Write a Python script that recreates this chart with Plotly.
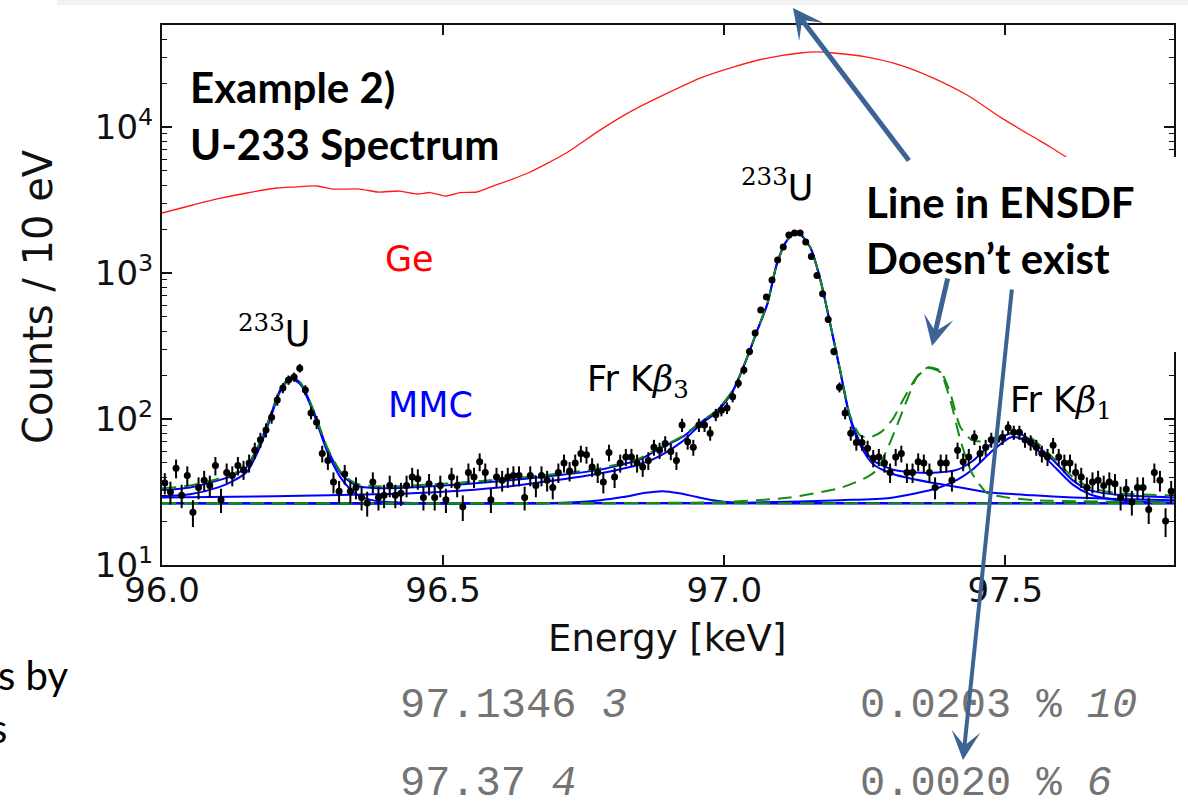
import plotly.graph_objects as go

# ---------------- data ----------------
# Ge detector spectrum (red line)
ge_energy_kev = [96.000, 96.055, 96.098, 96.151, 96.205, 96.233, 96.276, 96.304, 96.352, 96.383,
                 96.423, 96.454, 96.477, 96.504, 96.530, 96.560, 96.589, 96.619, 96.651, 96.719,
                 96.779, 96.838, 96.899, 96.957, 97.016, 97.077, 97.135, 97.165, 97.194, 97.254,
                 97.313, 97.372, 97.432, 97.491, 97.550, 97.580, 97.620, 97.700, 97.800]
ge_counts = [2576, 2924, 3215, 3534, 3822, 3882, 3945, 3760, 3760, 3589,
             3645, 3478, 3560, 3366, 3560, 3589, 3945, 4335, 4842, 6637,
             9530, 13060, 17090, 21660, 25770, 29700, 32150, 32680, 32150, 30150,
             26600, 21660, 16560, 11700, 8540, 7300, 5800, 3500, 1800]

# MMC spectrum, 10 eV bins (first bin centre 96.005 keV)
mmc_first_bin_kev = 96.005
mmc_bin_width_kev = 0.01
mmc_counts = [36.5, 31.6, 46, 30, 41, 23, 34, 38, 35, 48,
              28, 43, 41, 48, 45, 50, 61, 72, 84, 103,
              135, 163, 185, 194, 223, 158, 110, 95, 58, 52,
              37, 32, 42, 32, 34, 29, 26.6, 37, 29, 30,
              35, 30, 31, 35, 40, 39, 29, 36, 29, 35,
              28, 40, 35, 25, 43, 40, 51, 43, 28, 40,
              38, 40, 41, 41, 29, 41, 35, 41, 38, 34,
              43, 50, 44, 50, 58, 57, 47, 43, 37, 59,
              40, 50, 55, 55, 50, 47, 52, 64, 61, 68,
              60, 52, 91, 70, 64, 91, 91, 80, 107, 115,
              119, 142, 176, 217, 290, 388, 558, 685, 896, 1228,
              1506, 1823, 1880, 1880, 1630, 1300, 960, 720, 480, 290,
              165, 110, 80, 69, 69, 63, 54, 55, 50, 43,
              55, 58, 43, 43, 51, 50, 43, 34, 50, 50,
              38, 61, 51, 55, 75, 58, 64, 72, 72, 75,
              87, 81, 81, 72, 69, 64, 58, 55, 66, 55,
              50, 50, 43, 40, 34, 37, 38, 35, 37, 36,
              29, 33, 27, 34, 34, 24, 43, 38, 20, 32]

# Fit (blue): total
fit_total_kev = [96.000, 96.050, 96.100, 96.126, 96.151, 96.174, 96.192, 96.210, 96.228, 96.246,
                 96.269, 96.293, 96.317, 96.335, 96.352, 96.400, 96.500, 96.600, 96.700, 96.780,
                 96.850, 96.886, 96.925, 96.957, 96.988, 97.016, 97.041, 97.059, 97.077, 97.094,
                 97.112, 97.130, 97.153, 97.171, 97.189, 97.206, 97.224, 97.242, 97.265, 97.300,
                 97.340, 97.380, 97.415, 97.443, 97.478, 97.510, 97.530, 97.560, 97.590, 97.620,
                 97.650, 97.710, 97.800]
fit_total_counts = [32.6, 34, 38, 41, 47, 68, 103, 158, 192, 177,
                    115, 64, 43, 37, 34.5, 33.5, 35, 37.5, 41, 45,
                    53, 63, 75, 94, 115, 158, 265, 407, 620, 1170,
                    1683, 1910, 1500, 900, 440, 217, 103, 69, 52, 45,
                    43, 43, 45, 52, 69, 80, 78, 64, 50, 38,
                    32.6, 30, 29]

# Fit (blue): 233U line at 96.23 keV on background
fit_u96_kev = [96.000, 96.050, 96.100, 96.126, 96.151, 96.174, 96.192, 96.210, 96.228, 96.246,
               96.269, 96.293, 96.317, 96.335, 96.352, 96.380, 96.420, 96.500, 97.000, 97.800]
fit_u96_counts = [29.5, 30.5, 34, 37.5, 43.5, 64, 99, 154, 188, 173,
                  111, 61, 40, 33, 29.5, 27.5, 26.8, 26.5, 26.5, 26.5]

# Fit (blue): 233U line at 97.13 keV on background
fit_u97_kev = [96.000, 96.200, 96.400, 96.500, 96.600, 96.700, 96.780, 96.850, 96.886, 96.925,
               96.957, 96.988, 97.016, 97.041, 97.059, 97.077, 97.094, 97.112, 97.130, 97.153,
               97.171, 97.189, 97.206, 97.224, 97.242, 97.265, 97.300, 97.340, 97.380, 97.420,
               97.470, 97.550, 97.620, 97.700, 97.800]
fit_u97_counts = [29, 29.6, 30.6, 31.8, 34, 38, 42.5, 49, 56, 70,
                  91, 113, 157, 264, 406, 619, 1169, 1682, 1909, 1499,
                  899, 439, 215, 100, 66, 49, 42, 38.5, 36, 34,
                  31.5, 30, 29, 28.3, 27.8]

# Fit (blue): Fr K-beta3
fit_kb3_kev = [96.000, 96.700, 96.780, 96.820, 96.860, 96.890, 96.920, 96.950, 96.980, 97.020, 97.100, 97.800]
fit_kb3_counts = [26.5, 26.6, 27.8, 29.2, 31.2, 32, 31, 29.3, 27.8, 26.8, 26.5, 26.5]

# Fit (blue): Fr K-beta1
fit_kb1_kev = [96.000, 97.000, 97.206, 97.295, 97.380, 97.415, 97.443, 97.478, 97.510, 97.530,
               97.560, 97.590, 97.620, 97.650, 97.700, 97.800]
fit_kb1_counts = [26.5, 26.6, 27.8, 28.8, 33.7, 38.5, 45.5, 61, 75, 73,
                  60, 46, 35.5, 30.5, 27.8, 26.8]

# Fit (blue) background
fit_bg_kev = [96.0, 97.8]
fit_bg_counts = [26.5, 26.5]

# Alternative fit with ENSDF line (green dashed): total
alt_total_kev = [96.000, 96.050, 96.100, 96.126, 96.151, 96.174, 96.192, 96.210, 96.228, 96.246,
                 96.269, 96.293, 96.317, 96.335, 96.352, 96.400, 96.500, 96.600, 96.700, 96.780,
                 96.850, 96.886, 96.925, 96.957, 96.988, 97.016, 97.041, 97.059, 97.077, 97.094,
                 97.112, 97.130, 97.153, 97.171, 97.189, 97.206, 97.224, 97.242, 97.260, 97.280,
                 97.300, 97.318, 97.343, 97.363, 97.384, 97.402, 97.420, 97.440, 97.460, 97.480,
                 97.500, 97.520, 97.540, 97.560, 97.590, 97.620, 97.650, 97.700, 97.800]
alt_total_counts = [33.5, 35, 39, 42, 48, 69, 104, 159, 193, 178,
                    116, 65, 44, 38, 35.5, 34.5, 36, 38.5, 42, 46,
                    54, 64, 76, 95, 116, 159, 266, 408, 621, 1171,
                    1684, 1911, 1501, 901, 441, 219, 105, 77, 75, 82,
                    100, 135, 196, 226, 215, 150, 88, 72, 70, 73,
                    79, 81, 77, 67, 52, 40, 34, 31, 30]

# Alternative fit: ENSDF line at 97.37 keV on background
alt_line_kev = [96.000, 97.000, 97.117, 97.206, 97.254, 97.272, 97.295, 97.318, 97.343, 97.363,
                97.384, 97.402, 97.420, 97.440, 97.468, 97.503, 97.550, 97.800]
alt_line_counts = [26.5, 27, 29, 33.7, 40, 45, 69, 115, 194, 223,
                   210, 135, 72, 43, 31, 29, 27.8, 26.8]

alt_bg_kev = [96.0, 97.8]
alt_bg_counts = [26.5, 26.5]

y_tick_values = [10, 100, 1000, 10000]
y_tick_labels = ["10<sup>1</sup>", "10<sup>2</sup>", "10<sup>3</sup>", "10<sup>4</sup>"]
y_minor_values = [20, 30, 40, 50, 60, 70, 80, 90, 200, 300, 400, 500, 600, 700, 800, 900,
                  2000, 3000, 4000, 5000, 6000, 7000, 8000, 9000, 20000, 30000, 40000]
x_tick_values = [96.0, 96.5, 97.0, 97.5]

# ---------------- figure ----------------
FIG_W, FIG_H = 1188, 801
PL, PR, PT, PB = 162, 1174, 25, 565


def xp(px):
    return (px - PL) / (PR - PL)


def yp(py):
    return (PB - py) / (PB - PT)


BLUE = "#0000ff"
GREEN = "#138a13"
fig = go.Figure()

fig.add_trace(go.Scatter(x=ge_energy_kev, y=ge_counts, mode="lines",
                         line=dict(color="rgba(255,0,0,0.9)", width=1.3, shape="spline", smoothing=0.6)))

for xs, ys in [(fit_bg_kev, fit_bg_counts), (fit_u96_kev, fit_u96_counts),
               (fit_u97_kev, fit_u97_counts), (fit_kb3_kev, fit_kb3_counts),
               (fit_kb1_kev, fit_kb1_counts), (fit_total_kev, fit_total_counts)]:
    fig.add_trace(go.Scatter(x=xs, y=ys, mode="lines",
                             line=dict(color=BLUE, width=2, shape="spline", smoothing=0.7)))

for xs, ys in [(alt_bg_kev, alt_bg_counts), (alt_line_kev, alt_line_counts),
               (alt_total_kev, alt_total_counts)]:
    fig.add_trace(go.Scatter(x=xs, y=ys, mode="lines",
                             line=dict(color=GREEN, width=2, dash="14px,8px", shape="spline", smoothing=0.6)))

fig.add_trace(go.Scatter(x0=mmc_first_bin_kev, dx=mmc_bin_width_kev, y=mmc_counts, mode="markers",
                         marker=dict(color="black", size=7),
                         error_y=dict(type="sqrt", color="black", thickness=2, width=0)))

axis_common = dict(showline=True, linecolor="#111", linewidth=2, mirror="allticks",
                   ticks="inside", ticklen=10, tickwidth=1.5, tickcolor="#111",
                   showgrid=False, zeroline=False,
                   tickfont=dict(family="DejaVu Sans", size=34, color="#111"))

fig.update_xaxes(range=[96.0, 97.8], tickvals=x_tick_values, tickformat=".1f",
                 ticklabelstandoff=-6, **axis_common)
fig.update_yaxes(type="log", range=[1, 4.699], tickvals=y_tick_values, ticktext=y_tick_labels,
                 ticklabelstandoff=0,
                 minor=dict(tickmode="array", tickvals=y_minor_values, ticks="inside",
                            ticklen=5, tickwidth=1.2, tickcolor="#111", showgrid=False),
                 **axis_common)


def note(text, px, py, size, family="DejaVu Sans", color="black", xanchor="center", **kw):
    return dict(text=text, x=xp(px), y=yp(py), xref="paper", yref="paper",
                xanchor=xanchor, yanchor="middle", showarrow=False,
                font=dict(family=family, size=size, color=color), **kw)


label_font = dict(family="DejaVu Sans", size=35, color="black")
serif_span = "<span style=\"font-family:'DejaVu Serif'\">"
MONO_GREY = "#747474"
annotations = [
    # in-plot labels (data coordinates: keV, log10 counts)
    dict(text="Ge", x=96.441, y=3.096, xref="x", yref="y", showarrow=False,
         xanchor="center", yanchor="middle",
         font=dict(family="DejaVu Sans", size=35, color="#ff0000")),
    dict(text="MMC", x=96.477, y=2.096, xref="x", yref="y", showarrow=False,
         xanchor="center", yanchor="middle",
         font=dict(family="DejaVu Sans", size=35, color=BLUE)),
    dict(text="<sup>" + serif_span + "233</span></sup>U", x=96.199, y=2.60, xref="x", yref="y",
         xanchor="center", yanchor="middle", showarrow=False, font=label_font),
    dict(text="<sup>" + serif_span + "233</span></sup>U", x=97.094, y=3.60, xref="x", yref="y",
         xanchor="center", yanchor="middle", showarrow=False, font=label_font),
    dict(text="Fr K" + serif_span + "<i>β</i></span><sub>" + serif_span + "3</span></sub>",
         x=96.752, y=2.26, xref="x", yref="y", xanchor="left", yanchor="middle",
         showarrow=False, font=label_font),
    dict(text="Fr K" + serif_span + "<i>β</i></span><sub>" + serif_span + "1</span></sub>",
         x=97.505, y=2.11, xref="x", yref="y", xanchor="left", yanchor="middle",
         showarrow=False, font=label_font),
    # axis titles
    note("Counts / 10 eV", 38, 297, 40, color="#111", textangle=-90),
    note("Energy [keV]", 667, 638, 37, color="#111"),
    # slide text
    note("<b>Example 2)</b>", 188, 87, 42, family="Lato", xanchor="left"),
    note("<b>U-233 Spectrum</b>", 188, 144, 42, family="Lato", xanchor="left"),
    note("<b>Line in ENSDF</b>", 864, 202, 42, family="Lato", xanchor="left"),
    note("<b>Doesn’t exist</b>", 864, 258, 42, family="Lato", xanchor="left"),
    note("s by", 70, 675, 40, family="Lato", xanchor="right"),
    note("s", 9, 728, 40, family="Lato", xanchor="right"),
    # ENSDF table rows
    note("97.1346 <i>3</i>", 398, 706, 42, family="Liberation Mono", color=MONO_GREY, xanchor="left"),
    note("0.0203 % <i>10</i>", 858, 706, 42, family="Liberation Mono", color=MONO_GREY, xanchor="left"),
    note("97.37 <i>4</i>", 398, 784, 42, family="Liberation Mono", color=MONO_GREY, xanchor="left"),
    note("0.0020 % <i>6</i>", 858, 784, 42, family="Liberation Mono", color=MONO_GREY, xanchor="left"),
]

ARROW = "#3b6494"
arrows = [
    dict(head=(793, 8), tail=(910, 162), width=5, size=1.0),
    dict(head=(932, 346), tail=(948, 277), width=5, size=1.0),
    dict(head=(963, 760), tail=(1012, 288), width=4, size=1.2),
]
for a in arrows:
    hx, hy = a["head"]
    tx, ty = a["tail"]
    annotations.append(dict(text="", x=xp(hx), y=yp(hy), xref="paper", yref="paper",
                            ax=tx - hx, ay=ty - hy, axref="pixel", ayref="pixel",
                            showarrow=True, arrowhead=3, arrowsize=a["size"],
                            arrowwidth=a["width"], arrowcolor=ARROW, standoff=0))

shapes = [
    # white text box over the upper right of the plot
    dict(type="rect", xref="paper", yref="paper", x0=xp(842), x1=xp(1188), y0=yp(352), y1=yp(157),
         fillcolor="white", line=dict(width=0), layer="above"),
    # light grey band at the top of the slide
    dict(type="rect", xref="paper", yref="paper", x0=xp(57), x1=xp(1188), y0=yp(5), y1=yp(0),
         fillcolor="#f2f2f2", line=dict(width=0), layer="above"),
]

fig.update_layout(width=FIG_W, height=FIG_H, margin=dict(l=PL, r=FIG_W - PR, t=PT, b=FIG_H - PB),
                  paper_bgcolor="white", plot_bgcolor="white", showlegend=False,
                  annotations=annotations, shapes=shapes,
                  font=dict(family="DejaVu Sans", color="black"))

fig.write_html("out.html", config={"displayModeBar": False},
               post_script="document.body.style.margin='0px';")
